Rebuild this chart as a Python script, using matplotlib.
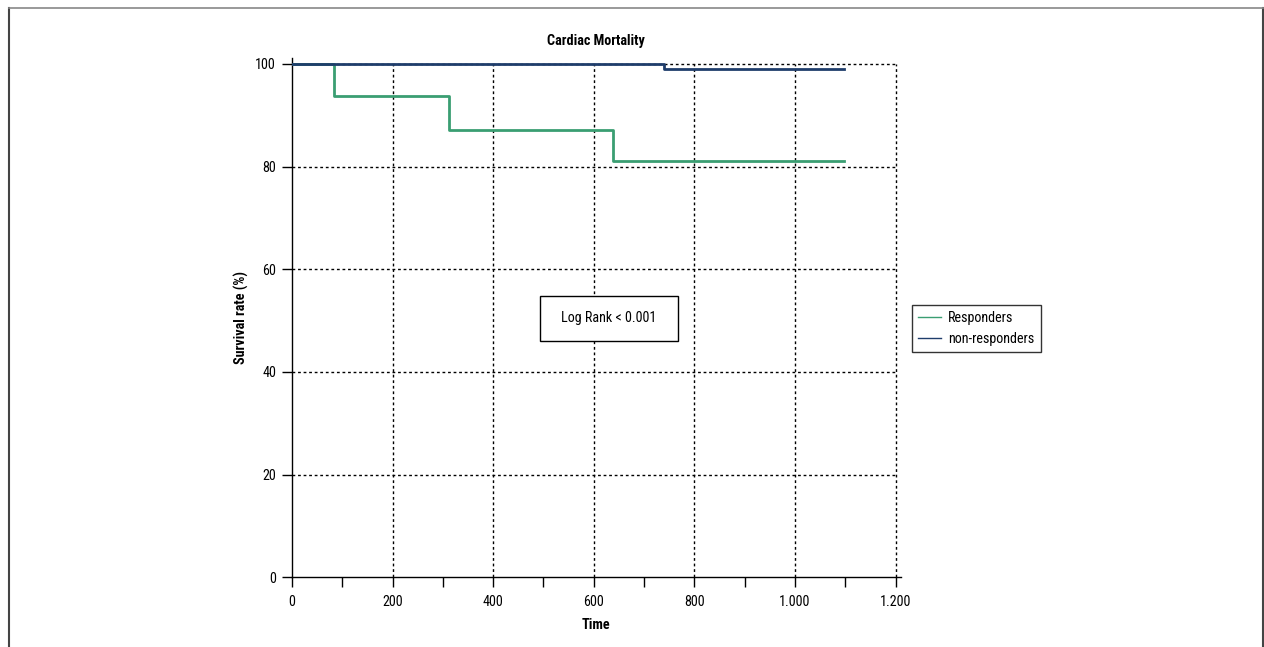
import matplotlib
matplotlib.use("Agg")
import matplotlib.pyplot as plt
from matplotlib.lines import Line2D
from matplotlib.patches import Rectangle
from matplotlib.ticker import FuncFormatter, MultipleLocator
from matplotlib import font_manager

# ---- data ----
resp_time = [0, 83, 312, 639, 1097]
resp_surv = [100, 93.7, 87.2, 81.0, 81.0]
nonresp_time = [0, 739, 1097]
nonresp_surv = [100, 99.0, 99.0]
series_labels = ["Responders", "non-responders"]
title = "Cardiac Mortality"
xlabel = "Time"
ylabel = "Survival rate (%)"
annotation = "Log Rank < 0.001"

weights = {}
for f in font_manager.fontManager.ttflist:
    if f.style == 'normal':
        weights.setdefault(f.name, set()).add(f.weight)
fam = "Liberation Sans"
for cand in ["Liberation Sans Narrow", "Arial Narrow", "Roboto Condensed", "PT Sans Narrow",
             "Encode Sans Semi Condensed", "Asap Condensed", "Archivo Narrow"]:
    w = weights.get(cand, set())
    if 400 in w and 700 in w:
        fam = cand
        break
plt.rcParams['font.family'] = [fam, 'Liberation Sans', 'DejaVu Sans']

green = "#3a9e72"
navy = "#1f3d6b"
FS = 10.2

fig = plt.figure(figsize=(12.64, 6.47), dpi=100)
ax = fig.add_axes([0.231, 0.1077, 0.7125 - 0.231, 0.9107 - 0.1077])

ax.step(resp_time, resp_surv, where='post', color=green, lw=2.0, zorder=3)
ax.step(nonresp_time, nonresp_surv, where='post', color=navy, lw=2.0, zorder=3)

ax.set_xlim(0, 1210)
ax.set_ylim(0, 101.2)
ax.xaxis.set_major_locator(MultipleLocator(100))
ax.yaxis.set_major_locator(MultipleLocator(20))

def xfmt(v, pos):
    v = int(round(v))
    if v % 200 != 0:
        return ""
    return f"{v:,}".replace(",", ".")
ax.xaxis.set_major_formatter(FuncFormatter(xfmt))

for s in ["top", "right"]:
    ax.spines[s].set_visible(False)
for s in ["left", "bottom"]:
    ax.spines[s].set_linewidth(1.0)
    ax.spines[s].set_color("black")
ax.tick_params(direction='out', length=7.5, width=1, labelsize=FS, colors='black', pad=4)
ax.tick_params(axis='x', pad=5.5)

# grid (dotted) at y 20..100 and x 200..1200
for yv in [20, 40, 60, 80, 100]:
    ax.axhline(yv, xmax=1200/1210, color='black', lw=1, ls=(0, (2, 2)), zorder=1)
for xv in [200, 400, 600, 800, 1000, 1200]:
    ax.axvline(xv, ymax=100/101.2, color='black', lw=1, ls=(0, (2, 2)), zorder=1)

ax.set_title(title, fontsize=FS, fontweight='bold', pad=9)
ax.set_xlabel(xlabel, fontsize=FS, fontweight='bold', labelpad=6.5)
ax.set_ylabel(ylabel, fontsize=FS, fontweight='bold', labelpad=4.5)

# annotation box
rect = Rectangle((0.4075, 0.455), 0.634 - 0.4075, 0.5415 - 0.455, transform=ax.transAxes,
                 facecolor='white', edgecolor='black', lw=1, zorder=4)
ax.add_patch(rect)
ax.text((0.4075 + 0.634) / 2, (0.455 + 0.5415) / 2, annotation, transform=ax.transAxes,
        ha='center', va='center', fontsize=FS, zorder=5)

handles = [Line2D([], [], color=green, lw=1), Line2D([], [], color=navy, lw=1)]
leg = fig.legend(handles, series_labels, loc='upper left', bbox_to_anchor=(0.7215, 0.5286),
                 fontsize=FS, frameon=True, fancybox=False, edgecolor='black',
                 handlelength=1.6, handletextpad=0.5, borderpad=0.45, labelspacing=0.45,
                 borderaxespad=0)
leg.get_frame().set_linewidth(1.0)

# figure border (open bottom)
fig.add_artist(Line2D([8.5/1264, 8.5/1264], [0, 1 - 7.5/647], color='#444444', lw=1.5, transform=fig.transFigure))
fig.add_artist(Line2D([1262.5/1264, 1262.5/1264], [0, 1 - 7.5/647], color='#444444', lw=1.5, transform=fig.transFigure))
fig.add_artist(Line2D([8.5/1264, 1262.5/1264], [1 - 7.5/647, 1 - 7.5/647], color='#888888', lw=1.2, transform=fig.transFigure))

fig.savefig("out.png", dpi=100)
